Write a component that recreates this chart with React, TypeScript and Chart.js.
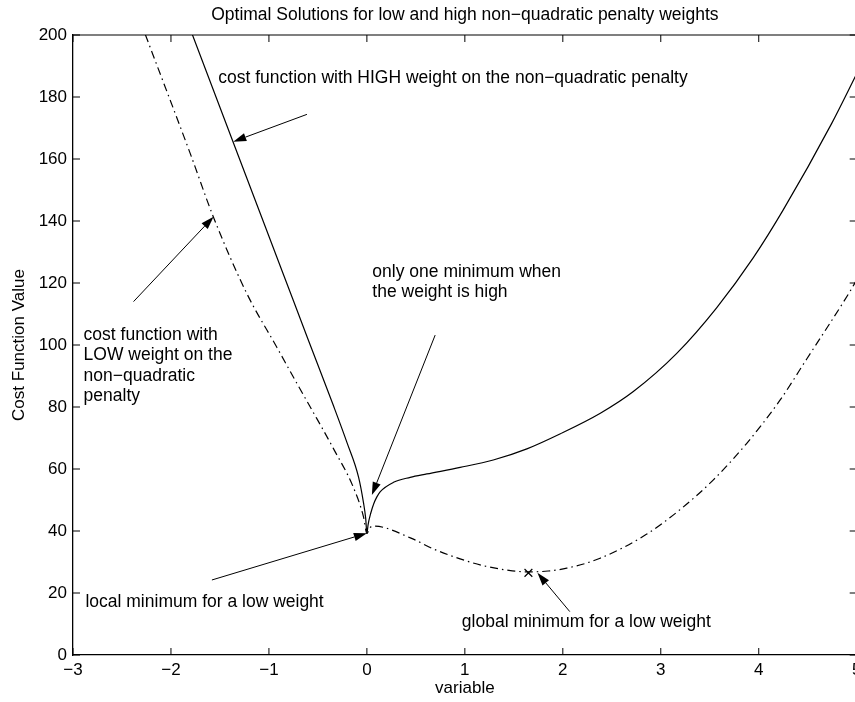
import React, { useEffect, useRef } from 'react';
import { Chart, registerables } from 'chart.js';

Chart.register(...registerables);

const FONT = '"Liberation Sans", Arial, Helvetica, sans-serif';

// ---- text ----
const chartTitle = 'Optimal Solutions for low and high non\u2212quadratic penalty weights';
const xAxisLabel = 'variable';
const yAxisLabel = 'Cost Function Value';

// ---- axes ----
const xMin = -3;
const xMax = 5;
const yMin = 0;
const yMax = 200;
const xTicks = [-3, -2, -1, 0, 1, 2, 3, 4, 5];
const yTicks = [0, 20, 40, 60, 80, 100, 120, 140, 160, 180, 200];

// ---- cost function with HIGH weight (solid) ----
const highX = [-1.95, -1.78, -1.36, -0.85, -0.6, -0.34, -0.204, -0.085, -0.034, -0.012, 0, 0.012, 0.04, 0.07, 0.102, 0.137, 0.272, 0.442, 0.612, 0.952, 1.29, 1.633, 1.97, 2.383, 2.72, 3.163, 3.57, 3.945, 4.25, 4.745, 5];
const highY = [214.2, 200, 165, 122.6, 101.8, 80.3, 68.6, 57.4, 49, 44, 39.2, 42.0, 45.8, 48.8, 51.0, 52.7, 55.7, 57.3, 58.4, 60.5, 62.9, 66.5, 71.3, 78.0, 85.0, 97.3, 112.0, 128.2, 143.6, 171.5, 187.5];

// ---- cost function with LOW weight (dash-dot) ----
const lowX = [-2.45, -2.26, -1.8, -1.567, -1.224, -0.918, -0.714, -0.578, -0.34, -0.137, -0.034, 0, 0.03, 0.07, 0.444, 0.68, 0.952, 1.19, 1.45, 1.65, 1.85, 2.04, 2.38, 2.857, 3.197, 3.537, 3.878, 4.217, 4.49, 4.93, 5];
const lowY = [216, 200, 161.5, 141.3, 116.5, 99.2, 87.6, 80.0, 66.5, 54.0, 44.5, 39.2, 41.0, 41.6, 37.8, 34.2, 31.0, 28.8, 27.3, 26.8, 27.1, 28.0, 31.2, 39.0, 46.9, 56.5, 68.3, 82.2, 95.5, 117.2, 121];

// ---- global minimum marker ----
const markerX = [1.649];
const markerY = [26.5];

// ---- annotations (data coordinates) ----
const noteLines = [
  ['cost function with HIGH weight on the non\u2212quadratic penalty'],
  ['cost function with', 'LOW weight on the', 'non\u2212quadratic', 'penalty'],
  ['only one minimum when', 'the weight is high'],
  ['local minimum for a low weight'],
  ['global minimum for a low weight'],
];
const noteX = [-1.517, -2.892, 0.056, -2.873, 0.969];
const noteY = [186.0, 103.2, 123.6, 17.2, 10.7];

const arrowTailX = [-0.612, -2.382, 0.697, -1.582, 2.071];
const arrowTailY = [174.4, 114.0, 103.2, 24.2, 14.0];
const arrowTipX = [-1.364, -1.565, 0.051, 0, 1.741];
const arrowTipY = [165.6, 141.4, 51.6, 39.3, 26.5];

const fmt = (v: number) => (v < 0 ? '\u2212' + Math.abs(v) : String(v));

const overlayPlugin = {
  id: 'overlay',
  afterDatasetsDraw(chart: any) {
    const { ctx, chartArea: a, scales } = chart;
    const xs = scales.x;
    const ys = scales.y;
    ctx.save();
    ctx.strokeStyle = '#000';
    ctx.fillStyle = '#000';
    ctx.lineWidth = 1.2;
    // top and right frame
    ctx.beginPath();
    ctx.moveTo(a.left, a.top);
    ctx.lineTo(a.right, a.top);
    ctx.lineTo(a.right, a.bottom);
    ctx.stroke();
    // inward ticks
    const tl = 7;
    ctx.lineWidth = 1;
    ctx.beginPath();
    for (const v of xTicks) {
      const px = xs.getPixelForValue(v);
      ctx.moveTo(px, a.bottom);
      ctx.lineTo(px, a.bottom - tl);
      ctx.moveTo(px, a.top);
      ctx.lineTo(px, a.top + tl);
    }
    for (const v of yTicks) {
      const py = ys.getPixelForValue(v);
      ctx.moveTo(a.left, py);
      ctx.lineTo(a.left + tl, py);
      ctx.moveTo(a.right, py);
      ctx.lineTo(a.right - tl, py);
    }
    ctx.stroke();

    // title
    ctx.font = `17.5px ${FONT}`;
    ctx.textAlign = 'center';
    ctx.textBaseline = 'middle';
    ctx.fillText(chartTitle, (a.left + a.right) / 2, 15);

    // annotation texts
    ctx.textAlign = 'left';
    noteLines.forEach((lines, i) => {
      const px = xs.getPixelForValue(noteX[i]);
      const py = ys.getPixelForValue(noteY[i]);
      lines.forEach((t, j) => ctx.fillText(t, px, py + j * 20.5));
    });

    // arrows
    ctx.lineWidth = 1;
    arrowTailX.forEach((_, i) => {
      const x0 = xs.getPixelForValue(arrowTailX[i]);
      const y0 = ys.getPixelForValue(arrowTailY[i]);
      const x1 = xs.getPixelForValue(arrowTipX[i]);
      const y1 = ys.getPixelForValue(arrowTipY[i]);
      const ang = Math.atan2(y1 - y0, x1 - x0);
      const len = 13;
      const hw = 4.2;
      const bx = x1 - len * Math.cos(ang);
      const by = y1 - len * Math.sin(ang);
      ctx.beginPath();
      ctx.moveTo(x0, y0);
      ctx.lineTo(bx, by);
      ctx.stroke();
      ctx.beginPath();
      ctx.moveTo(x1, y1);
      ctx.lineTo(bx + hw * Math.sin(ang), by - hw * Math.cos(ang));
      ctx.lineTo(bx - hw * Math.sin(ang), by + hw * Math.cos(ang));
      ctx.closePath();
      ctx.fill();
    });
    ctx.restore();
  },
};

export default function App() {
  const ref = useRef<HTMLCanvasElement | null>(null);
  useEffect(() => {
    if (!ref.current) return;
    const chart = new Chart(ref.current, {
      type: 'line',
      data: {
        datasets: [
          {
            label: 'high weight',
            data: highX.map((x, i) => ({ x, y: highY[i] })),
            borderColor: '#000',
            borderWidth: 1.2,
            pointRadius: 0,
            cubicInterpolationMode: 'monotone',
            fill: false,
          },
          {
            label: 'low weight',
            data: lowX.map((x, i) => ({ x, y: lowY[i] })),
            borderColor: '#000',
            borderWidth: 1.2,
            borderDash: [8, 4, 1.5, 4],
            pointRadius: 0,
            cubicInterpolationMode: 'monotone',
            fill: false,
          },
          {
            label: 'global minimum',
            data: markerX.map((x, i) => ({ x, y: markerY[i] })),
            showLine: false,
            borderColor: '#000',
            backgroundColor: '#000',
            pointStyle: 'crossRot',
            pointRadius: 5.5,
            borderWidth: 1.2,
          },
        ],
      },
      options: {
        animation: false,
        responsive: false,
        devicePixelRatio: 1,
        layout: { padding: { top: 35, right: 13.3, bottom: 0, left: 0 } },
        plugins: {
          legend: { display: false },
          tooltip: { enabled: false },
          title: { display: false },
        },
        scales: {
          x: {
            type: 'linear',
            min: xMin,
            max: xMax,
            afterBuildTicks: (s: any) => {
              s.ticks = xTicks.map((v) => ({ value: v }));
            },
            afterFit: (s: any) => {
              s.height = 47;
            },
            grid: { display: false, drawTicks: false },
            border: { display: true, color: '#000', width: 1.3 },
            ticks: {
              color: '#000',
              font: { family: FONT, size: 17 },
              padding: 5,
              maxRotation: 0,
              callback: (v: any) => fmt(Number(v)),
            },
            title: {
              display: true,
              text: xAxisLabel,
              color: '#000',
              font: { family: FONT, size: 17 },
              padding: { top: 0, bottom: 3.5 },
            },
          },
          y: {
            type: 'linear',
            min: yMin,
            max: yMax,
            afterBuildTicks: (s: any) => {
              s.ticks = yTicks.map((v) => ({ value: v }));
            },
            afterFit: (s: any) => {
              s.width = 73;
            },
            grid: { display: false, drawTicks: false },
            border: { display: true, color: '#000', width: 1.3 },
            ticks: {
              color: '#000',
              font: { family: FONT, size: 17 },
              padding: 6,
              callback: (v: any) => fmt(Number(v)),
            },
            title: {
              display: true,
              text: yAxisLabel,
              color: '#000',
              font: { family: FONT, size: 17 },
              padding: { top: 9.5, bottom: 0 },
            },
          },
        },
      },
      plugins: [overlayPlugin],
    } as any);
    return () => chart.destroy();
  }, []);

  return (
    <div
      style={{
        position: 'fixed',
        left: 0,
        top: 0,
        width: 855,
        height: 702,
        overflow: 'hidden',
        background: '#fff',
      }}
    >
      <canvas ref={ref} width={870} height={702} style={{ width: 870, height: 702, display: 'block' }} />
    </div>
  );
}
